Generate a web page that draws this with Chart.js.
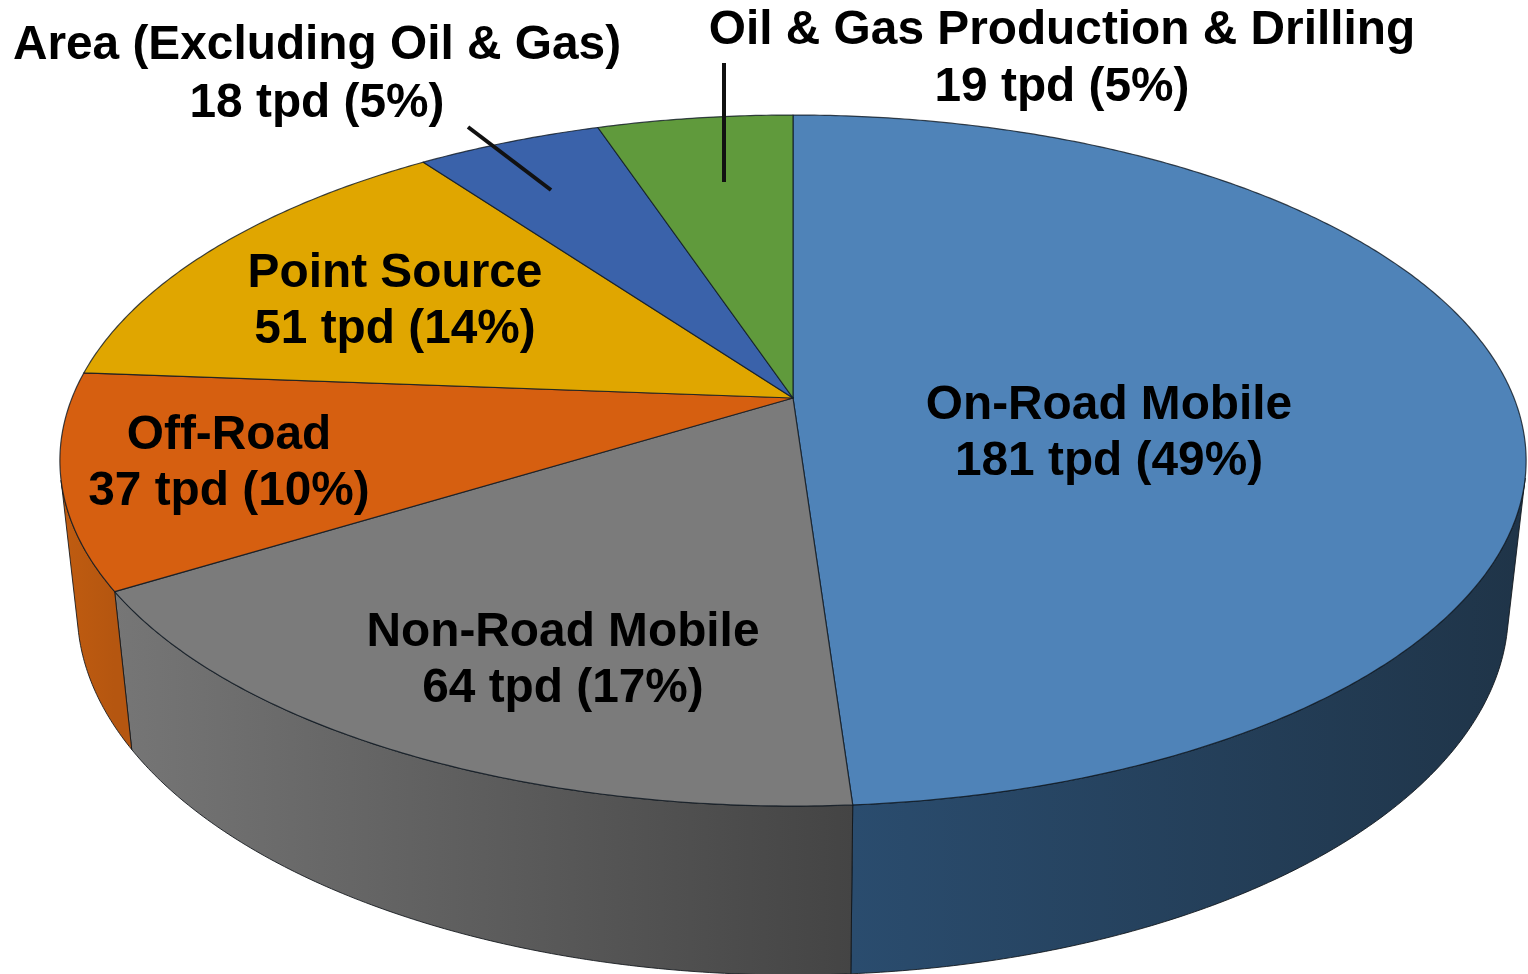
<!DOCTYPE html>
<html>
<head>
<meta charset="utf-8">
<title>Emissions by source</title>
<script src="https://cdn.jsdelivr.net/npm/chart.js@4/dist/chart.umd.js"></script>
<style>
  html, body { margin: 0; padding: 0; background: #fff; overflow: hidden; }
  canvas { display: block; }
</style>
</head>
<body>
<canvas id="pie" width="1528" height="974"></canvas>
<script>
const categories = ['On-Road Mobile', 'Non-Road Mobile', 'Off-Road', 'Point Source', 'Area (Excluding Oil & Gas)', 'Oil & Gas Production & Drilling'];
const tpd        = [181, 64, 37, 51, 18, 19];
const percents   = [49, 17, 10, 14, 5, 5];

const topColors  = ['#4f83b8', '#7b7b7b', '#d65f10', '#e0a600', '#3a62aa', '#609a3c'];
// wall shading, left to right
const wallLeft   = ['#2a4c6e', '#767676', '#c05c10', '#b88800', '#2f4f8a', '#4e7d30'];
const wallRight  = ['#1f3448', '#444444', '#b55610', '#b88800', '#2f4f8a', '#4e7d30'];

// label anchors: centre x, first baseline, gap to second line
const labelSpots = [[1109, 419, 56], [563, 646, 56], [229, 449, 56], [395, 287, 56], [317, 59, 58], [1062, 44, 57]];
const leaders    = [[468, 127, 551, 190], [724, 63, 724, 182]];

// tilted disc: homography from the unit circle to the page
const apex = { x: 793, y: 398 };
const tilt = { a: 721, b: 334.2, k: 0.181 };
// wall edges lean towards this point, and get taller as the rim comes closer
const vanish = { x: 785, y: 6800 };
const wallBase = 53.2, wallNear = 94.8;

function rimPoint(angle) {
  const u = Math.cos(angle), v = -Math.sin(angle);
  const w = 1 + tilt.k * v;
  return { x: apex.x + tilt.a * u / w, y: apex.y - tilt.b * v / w, w };
}
function lowerPoint(p) {
  const f = (wallBase + wallNear / p.w) / (vanish.y - p.y);
  return { x: p.x + (vanish.x - p.x) * f, y: p.y + (vanish.y - p.y) * f };
}
function rimArc(start, end) {
  const n = Math.max(2, Math.ceil((end - start) / (Math.PI / 360)));
  const pts = [];
  for (let i = 0; i <= n; i++) pts.push(rimPoint(start + (end - start) * i / n));
  return pts;
}
function tracePath(ctx, pts) {
  ctx.beginPath();
  pts.forEach((p, i) => i ? ctx.lineTo(p.x, p.y) : ctx.moveTo(p.x, p.y));
  ctx.closePath();
}
function segment(ctx, a, b) {
  ctx.beginPath();
  ctx.moveTo(a.x, a.y);
  ctx.lineTo(b.x, b.y);
  ctx.stroke();
}
// a wall strip faces the viewer when the rim runs one way round its drop
function facesFront(a, b, lowA) {
  return (b.x - a.x) * (lowA.y - a.y) - (b.y - a.y) * (lowA.x - a.x) < 0;
}

// Pie controller that keeps Chart.js' slice angles but paints them as a tilted drum
class TiltedPie extends Chart.PieController {
  draw() {
    const ctx = this.chart.ctx;
    const arcs = this._cachedMeta.data;
    ctx.save();
    ctx.lineJoin = 'round';

    arcs.forEach((arc, i) => {
      const top = rimArc(arc.startAngle, arc.endAngle);
      const low = top.map(lowerPoint);

      // front facing run of the rim for this slice, none for the back slices
      let first = -1, last = -1;
      for (let j = 0; j < top.length - 1; j++) {
        if (facesFront(top[j], top[j + 1], low[j])) {
          if (first < 0) first = j;
          last = j + 1;
        }
      }
      if (first < 0) return;

      const upper = top.slice(first, last + 1);
      const lower = low.slice(first, last + 1);
      const xs = upper.map(p => p.x);
      const g = ctx.createLinearGradient(Math.min(...xs), 0, Math.max(...xs), 0);
      g.addColorStop(0, wallLeft[i]);
      g.addColorStop(1, wallRight[i]);
      tracePath(ctx, upper.concat(lower.slice().reverse()));
      ctx.fillStyle = g;
      ctx.fill();
      ctx.strokeStyle = 'rgba(15,20,25,0.85)';
      ctx.lineWidth = 1;
      ctx.stroke();
    });

    arcs.forEach((arc, i) => {
      tracePath(ctx, [apex].concat(rimArc(arc.startAngle, arc.endAngle)));
      ctx.fillStyle = topColors[i];
      ctx.fill();
      ctx.strokeStyle = 'rgba(15,25,35,0.8)';
      ctx.lineWidth = 1.2;
      ctx.stroke();
    });
    ctx.restore();
  }
}
TiltedPie.id = 'tiltedPie';
TiltedPie.defaults = Chart.PieController.defaults;
TiltedPie.overrides = Chart.PieController.overrides;
Chart.register(TiltedPie);

const sliceLabels = {
  id: 'sliceLabels',
  afterDraw(chart) {
    const ctx = chart.ctx;
    ctx.save();
    ctx.strokeStyle = '#111';
    ctx.lineWidth = 4;
    leaders.forEach(l => segment(ctx, { x: l[0], y: l[1] }, { x: l[2], y: l[3] }));
    ctx.fillStyle = '#000';
    ctx.font = 'bold 47.8px "Liberation Sans", Arial, sans-serif';
    ctx.textAlign = 'center';
    ctx.textBaseline = 'alphabetic';
    categories.forEach((name, i) => {
      const [x, y, gap] = labelSpots[i];
      ctx.fillText(name, x, y);
      ctx.fillText(`${tpd[i]} tpd (${percents[i]}%)`, x, y + gap);
    });
    ctx.restore();
  }
};

new Chart(document.getElementById('pie'), {
  type: 'tiltedPie',
  data: {
    labels: categories,
    datasets: [{ data: tpd, backgroundColor: topColors }]
  },
  options: {
    responsive: false,
    animation: false,
    plugins: { legend: { display: false }, tooltip: { enabled: false } }
  },
  plugins: [sliceLabels]
});
</script>
</body>
</html>
